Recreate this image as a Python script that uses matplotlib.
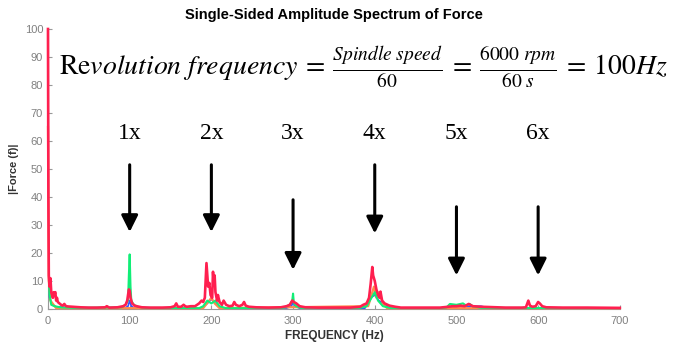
import matplotlib.pyplot as plt
import matplotlib as mpl

mpl.rcParams['mathtext.fontset'] = 'stix'

# --- data ----------------------------------------------------------------
red_f = [0, 0.5, 1, 2, 3, 4, 5, 6, 7, 8,
         9, 10, 11, 12, 14, 16, 18, 20, 22, 25,
         30, 40, 50, 60, 70, 72, 75, 85, 92, 95,
         97, 99, 100, 101, 103, 106, 110, 115, 125, 140,
         150, 155, 157, 159, 163, 166, 168, 170, 175, 180,
         185, 188, 190, 192, 193, 194, 196, 197.5, 199, 201,
         202, 203, 204, 205, 207, 208, 210, 213, 215, 218,
         222, 226, 228, 230, 234, 238, 240, 242, 246, 255,
         270, 285, 292, 296, 299, 301, 304, 308, 315, 330,
         350, 370, 382, 386, 390, 393, 395, 397, 398, 400,
         402, 404, 406, 407, 409, 412, 418, 425, 432, 450,
         480, 490, 495, 500, 505, 510, 515, 520, 530, 560,
         580, 585, 588, 590, 593, 597, 600, 602, 605, 610,
         630, 660, 700]
red_a = [100, 40, 12, 8, 11, 6, 5, 4, 6, 5.5,
         6, 3, 4, 2.5, 2, 1.5, 1.2, 1.8, 1, 0.9,
         0.8, 0.6, 0.5, 0.5, 0.6, 1, 0.5, 0.6, 1, 1.5,
         3, 7, 6.5, 4, 2, 1.2, 0.9, 0.6, 0.5, 0.5,
         0.6, 1, 2, 0.8, 0.8, 1.5, 1, 0.8, 1, 1,
         2, 3, 2.5, 4, 10, 16.4, 8, 9.3, 5, 4,
         13.3, 9, 12, 6, 3, 5, 2.5, 1.5, 3, 1.5,
         1, 1.2, 2.5, 1.5, 1, 1.5, 2.5, 1.2, 0.8, 0.6,
         0.5, 0.6, 1, 1.5, 3, 2.5, 2, 1, 0.6, 0.5,
         0.5, 0.5, 0.8, 1.5, 2, 4, 9, 15, 12, 10,
         7, 5, 4, 6.2, 3, 2, 1.2, 0.8, 0.5, 0.5,
         0.5, 0.8, 1, 1, 1.2, 1, 1.8, 1, 0.8, 0.5,
         0.5, 0.6, 3, 1.2, 0.8, 1, 2.5, 2, 1, 0.6,
         0.5, 0.5, 0.4]

green_f = [0, 1, 2, 4, 8, 15, 30, 90, 95, 98, 99, 100, 101, 102, 105, 110, 120,
           185, 190, 195, 200, 205, 210, 218, 285, 290, 296, 299, 300, 301, 304,
           310, 318, 380, 390, 396, 400, 404, 410, 420, 480, 488, 492, 500, 508,
           512, 516, 520, 530, 700]
green_a = [17, 10, 5, 1.5, 1, 0.6, 0.4, 0.6, 1.5, 3, 12, 19.5, 8, 3, 1.5, 0.8, 0.4,
           0.3, 1, 3, 2, 3, 1, 0.3, 0.3, 0.6, 1.5, 3, 5.5, 2, 1,
           0.4, 0.3, 0.3, 1, 4, 6, 3, 1, 0.3, 0.3, 0.6, 1.8, 1.5, 2,
           1.2, 1.8, 1, 0.4, 0.3]

blue_f = [0, 1, 2, 5, 10, 30, 94, 98, 100, 102, 106, 188, 195, 200, 205, 212,
          292, 298, 300, 302, 308, 388, 395, 400, 405, 410, 418, 490, 500, 530,
          540, 700]
blue_a = [18, 8, 4, 1.5, 0.8, 0.4, 0.3, 1, 3, 1, 0.3, 0.3, 2, 3.5, 2, 0.3,
          0.3, 1, 2.5, 1, 0.3, 0.3, 4, 5, 3, 2, 0.3, 0.3, 0.8, 1,
          0.3, 0.3]

orange_f = [0, 1, 3, 10, 190, 196, 200, 204, 210, 392, 396, 399, 402, 405, 410,
            415, 700]
orange_a = [65, 10, 3, 0.3, 0.3, 2.5, 4, 2, 0.3, 1, 5, 8, 4, 6, 2, 0.3, 0.3]

harmonic_labels = ['1x', '2x', '3x', '4x', '5x', '6x']
harmonic_freqs = [100, 200, 300, 400, 500, 600]
arrow_tops = [51.5, 51.5, 39, 51.5, 36.5, 36.5]
arrow_tips = [27.5, 27.5, 14, 27, 12, 12]

# --- figure ---------------------------------------------------------------
fig = plt.figure(figsize=(6.73, 3.42), dpi=100)
ax = fig.add_axes([0.0713, 0.0965, 0.8497, 0.8187])

ax.plot(blue_f, blue_a, color='#3a4dff', lw=1.2, zorder=3)
ax.plot(orange_f, orange_a, color='#ff8a4a', lw=1.6, zorder=3, clip_on=False)
ax.plot(green_f, green_a, color='#11ee77', lw=1.5, zorder=3)
ax.plot(red_f, red_a, color='#ff1f4f', lw=1.9, zorder=3, clip_on=False)

ax.set_xlim(0, 700)
ax.set_ylim(0, 100)
ax.set_xticks(range(0, 701, 100))
ax.set_yticks(range(0, 101, 10))
for side in ['top', 'right']:
    ax.spines[side].set_visible(False)
for side in ['left', 'bottom']:
    ax.spines[side].set_color('#999999')
    ax.spines[side].set_linewidth(0.8)
ax.tick_params(direction='in', length=3, colors='#999999', labelcolor='#808080',
               labelsize=8)
ax.tick_params(axis='x', pad=5)
for lab in ax.get_xticklabels() + ax.get_yticklabels():
    lab.set_family('Liberation Sans')

ax.set_title('Single-Sided Amplitude Spectrum of Force', fontsize=10.5,
             fontweight='bold', family='Liberation Sans', pad=7)
ax.set_xlabel('FREQUENCY (Hz)', fontsize=8.5, fontweight='bold',
              family='Liberation Sans', color='#333333', labelpad=3)
ax.set_ylabel('|Force (f)|', fontsize=8, fontweight='bold',
              family='Liberation Sans', color='#333333', labelpad=4)

formula = (r'$\mathrm{Re}volution\ frequency\:=\:\frac{Spindle\ speed}{60}'
           r'\:=\:\frac{6000\ rpm}{60\ s}\:=\:100Hz$')
ax.text(14, 86.5, formula, fontsize=20, ha='left', va='center', clip_on=False)

for lab, f, top, tip in zip(harmonic_labels, harmonic_freqs, arrow_tops, arrow_tips):
    ax.text(f, 62.5, lab, fontsize=17, family='Liberation Serif',
            ha='center', va='center')
    ax.annotate('', xy=(f, tip), xytext=(f, top),
                arrowprops=dict(arrowstyle='-|>,head_length=1.0,head_width=0.5',
                                color='black', lw=2.2, shrinkA=0, shrinkB=0))

fig.savefig('out.png', dpi=100)
